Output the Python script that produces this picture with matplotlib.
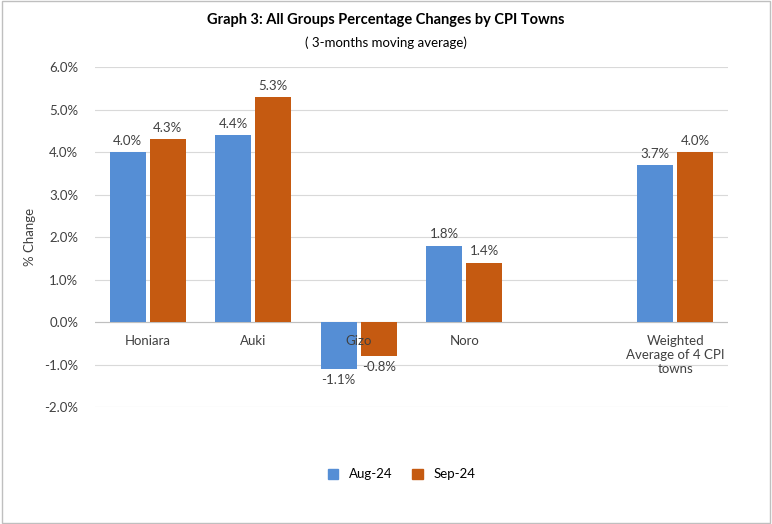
import matplotlib.pyplot as plt
import numpy as np

plt.rcParams['font.family'] = ['Lato', 'DejaVu Sans']

towns = ["Honiara", "Auki", "Gizo", "Noro", "", "Weighted\nAverage of 4 CPI\ntowns"]
aug = [4.0, 4.4, -1.1, 1.8, None, 3.7]
sep = [4.3, 5.3, -0.8, 1.4, None, 4.0]
yticks = [-2, -1, 0, 1, 2, 3, 4, 5, 6]

blue = "#558ED5"
orange = "#C55A11"

fig = plt.figure(figsize=(7.72, 5.24), dpi=100)
ax = fig.add_axes([0.123, 0.2233, 0.820, 0.6487])

x = np.arange(len(towns))
w = 0.34
for i in x:
    if aug[i] is None:
        continue
    for off, vals, col in ((-w / 2 - 0.02, aug, blue), (w / 2 + 0.02, sep, orange)):
        v = vals[i]
        ax.bar(i + off, v, w, color=col, zorder=3)
        ax.text(i + off, v + (0.12 if v > 0 else -0.12), f"{v:.1f}%",
                ha="center", va="bottom" if v > 0 else "top", fontsize=9.5, color="#404040")

ax.set_xlim(-0.5, len(towns) - 0.5)
ax.set_ylim(-2, 6)
ax.set_yticks(yticks)
ax.set_yticklabels([f"{t:.1f}%" for t in yticks], fontsize=9.5, color="#404040")
ax.set_xticks([])
ax.grid(axis="y", color="#D9D9D9", lw=0.8, zorder=0)
for s in ax.spines.values():
    s.set_visible(False)
ax.axhline(0, color="#BFBFBF", lw=0.8, zorder=2)
ax.tick_params(axis="y", length=0, pad=12)
for i, t in enumerate(towns):
    ax.text(i, -0.3, t, ha="center", va="top", fontsize=9.5, color="#404040")

ax.set_ylabel("% Change", fontsize=9.5, color="#404040", labelpad=6)

fig.text(0.5, 0.962, "Graph 3: All Groups Percentage Changes by CPI Towns",
         ha="center", va="center", fontsize=10.5, fontweight="bold")
fig.text(0.5, 0.918, "( 3-months moving average)", ha="center", va="center", fontsize=9.5)

h1 = plt.Rectangle((0, 0), 1, 1, color=blue)
h2 = plt.Rectangle((0, 0), 1, 1, color=orange)
fig.legend([h1, h2], ["Aug-24", "Sep-24"], loc="center", bbox_to_anchor=(0.52, 0.095),
           ncol=2, frameon=False, fontsize=9.5, handlelength=0.8, handleheight=0.8,
           columnspacing=1.5)

fig.patches.append(plt.Rectangle((0.002, 0.002), 0.996, 0.996, transform=fig.transFigure,
                                 fill=False, edgecolor="#BFBFBF", lw=1))
fig.savefig("out.png", dpi=100)
